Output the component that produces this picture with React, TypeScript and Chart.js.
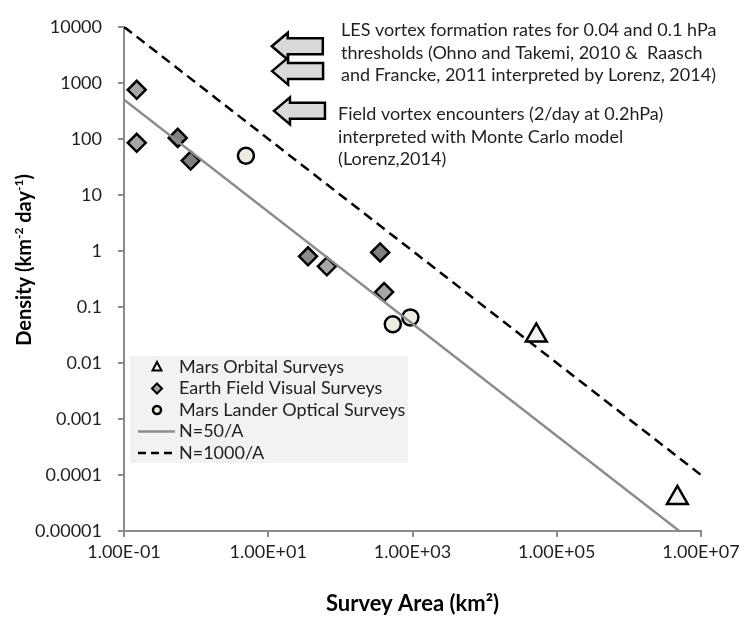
import React, { useEffect, useRef } from 'react';
import { Chart, registerables } from 'chart.js';

Chart.register(...registerables);

// ---------- data ----------
const marsOrbitalArea = [5.2e4, 4.7e6];
const marsOrbitalDensity = [0.031, 3.9e-5];

const earthFieldArea = [0.15, 0.15, 0.556, 0.84, 35.6, 65, 356, 404];
const earthFieldDensity = [750, 85, 104, 41, 0.8, 0.53, 0.94, 0.184];

const marsLanderArea = [4.9, 533, 935];
const marsLanderDensity = [50, 0.049, 0.065];

const n50Area = [0.1, 5e6];
const n50Density = [500, 1e-5];
const n1000Area = [0.1, 1e7];
const n1000Density = [10000, 1e-4];

const xTickValues = [0.1, 10, 1000, 1e5, 1e7];
const xTickLabels = ['1.00E-01', '1.00E+01', '1.00E+03', '1.00E+05', '1.00E+07'];
const yTickValues = [1e-5, 1e-4, 1e-3, 0.01, 0.1, 1, 10, 100, 1000, 10000];
const yTickLabels = ['0.00001', '0.0001', '0.001', '0.01', '0.1', '1', '10', '100', '1000', '10000'];

const xTitle = 'Survey Area (km²)';
// y title: [text, isSuperscript]
const yTitleParts: [string, boolean][] = [
  ['Density (km', false],
  ['-2', true],
  [' day', false],
  ['-1', true],
  [')', false],
];

const legendLabels = [
  'Mars Orbital Surveys',
  'Earth Field Visual Surveys',
  'Mars Lander Optical Surveys',
  'N=50/A',
  'N=1000/A',
];

const lesNoteLines = [
  'LES vortex formation rates for 0.04 and 0.1 hPa',
  'thresholds (Ohno and Takemi, 2010 &  Raasch',
  'and Francke, 2011 interpreted by Lorenz, 2014)',
];
const fieldNoteLines = [
  'Field vortex encounters (2/day at 0.2hPa)',
  'interpreted with Monte Carlo model',
  '(Lorenz,2014)',
];
// arrow anchors (data coordinates): tip area and density level
const arrowTipArea = [11.2, 11.3, 12];
const arrowDensity = [4500, 1620, 316];
// note anchors (data coordinates of first line start)
const noteArea = [102, 93];
const noteDensity = [8700, 272];

// ---------- styles ----------
const FONT = 'Lato, "Open Sans", "DejaVu Sans", sans-serif';
const TEXT = '#1f1f1f';
const AXIS = '#8c8c8c';
const earthFieldFill = ['#a6a6a6', '#a6a6a6', '#808080', '#808080', '#8c8c8c', '#a6a6a6', '#808080', '#a6a6a6'];

const pts = (xs: number[], ys: number[]) => xs.map((x, i) => ({ x, y: ys[i] }));

function drawArrow(ctx: CanvasRenderingContext2D, tipX: number, cy: number) {
  const len = 51, headLen = 16, headH = 27, bodyH = 16;
  ctx.beginPath();
  ctx.moveTo(tipX, cy);
  ctx.lineTo(tipX + headLen, cy - headH / 2);
  ctx.lineTo(tipX + headLen, cy - bodyH / 2);
  ctx.lineTo(tipX + len, cy - bodyH / 2);
  ctx.lineTo(tipX + len, cy + bodyH / 2);
  ctx.lineTo(tipX + headLen, cy + bodyH / 2);
  ctx.lineTo(tipX + headLen, cy + headH / 2);
  ctx.closePath();
  ctx.fillStyle = '#d9d9d9';
  ctx.fill();
  ctx.lineWidth = 2.5;
  ctx.strokeStyle = '#000';
  ctx.lineJoin = 'miter';
  ctx.stroke();
}

const overlayPlugin = {
  id: 'overlay',
  afterDatasetsDraw(chart: any) {
    const ctx: CanvasRenderingContext2D = chart.ctx;
    const xs = chart.scales.x;
    const ys = chart.scales.y;
    const ca = chart.chartArea;
    ctx.save();

    // arrows
    arrowTipArea.forEach((a, i) => {
      drawArrow(ctx, xs.getPixelForValue(a), ys.getPixelForValue(arrowDensity[i]));
    });

    // notes
    ctx.fillStyle = TEXT;
    ctx.font = `18px ${FONT}`;
    ctx.textAlign = 'left';
    ctx.textBaseline = 'middle';
    const lh = 22.5;
    [lesNoteLines, fieldNoteLines].forEach((lines, b) => {
      const x0 = xs.getPixelForValue(noteArea[b]);
      const y0 = ys.getPixelForValue(noteDensity[b]);
      lines.forEach((t, i) => ctx.fillText(t, x0, y0 + i * lh));
    });

    // legend
    const bl = ca.left + 6;
    const bt = ca.bottom - 175;
    const bw = 278;
    const bh = 107;
    ctx.fillStyle = '#f2f2f2';
    ctx.fillRect(bl, bt, bw, bh);
    const rowH = 21.5;
    const mx = bl + 27;
    legendLabels.forEach((label, i) => {
      const cy = bt + 11 + i * rowH;
      ctx.strokeStyle = '#000';
      ctx.lineWidth = 2.5;
      if (i === 0) {
        ctx.beginPath();
        ctx.moveTo(mx, cy - 5);
        ctx.lineTo(mx + 4.5, cy + 3.5);
        ctx.lineTo(mx - 4.5, cy + 3.5);
        ctx.closePath();
        ctx.fillStyle = '#f2f2f2';
        ctx.fill();
        ctx.lineWidth = 2;
        ctx.stroke();
      } else if (i === 1) {
        ctx.beginPath();
        ctx.moveTo(mx, cy - 5);
        ctx.lineTo(mx + 5, cy);
        ctx.lineTo(mx, cy + 5);
        ctx.lineTo(mx - 5, cy);
        ctx.closePath();
        ctx.fillStyle = '#a6a6a6';
        ctx.fill();
        ctx.lineWidth = 2;
        ctx.stroke();
      } else if (i === 2) {
        ctx.beginPath();
        ctx.arc(mx, cy, 4, 0, Math.PI * 2);
        ctx.fillStyle = '#eeece1';
        ctx.fill();
        ctx.lineWidth = 2.5;
        ctx.stroke();
      } else {
        ctx.beginPath();
        ctx.moveTo(bl + 8, cy);
        ctx.lineTo(bl + 45, cy);
        if (i === 3) {
          ctx.strokeStyle = AXIS;
          ctx.setLineDash([]);
        } else {
          ctx.strokeStyle = '#000';
          ctx.setLineDash([8, 5]);
        }
        ctx.lineWidth = 2.5;
        ctx.stroke();
        ctx.setLineDash([]);
      }
      ctx.fillStyle = TEXT;
      ctx.font = `18px ${FONT}`;
      ctx.textAlign = 'left';
      ctx.textBaseline = 'middle';
      ctx.fillText(label, bl + 49, cy);
    });

    // y axis title with superscripts
    const mainFont = `bold 20px ${FONT}`;
    const supFont = `bold 12px ${FONT}`;
    let total = 0;
    yTitleParts.forEach(([t, sup]) => {
      ctx.font = sup ? supFont : mainFont;
      total += ctx.measureText(t).width;
    });
    const cx = 25;
    const cyT = (ca.top + ca.bottom) / 2 - 19;
    ctx.translate(cx, cyT);
    ctx.rotate(-Math.PI / 2);
    ctx.fillStyle = '#000';
    ctx.textAlign = 'left';
    ctx.textBaseline = 'middle';
    let px = -total / 2;
    yTitleParts.forEach(([t, sup]) => {
      ctx.font = sup ? supFont : mainFont;
      ctx.fillText(t, px, sup ? -6 : 0);
      px += ctx.measureText(t).width;
    });

    ctx.restore();
  },
};

export default function App() {
  const ref = useRef<HTMLCanvasElement | null>(null);

  useEffect(() => {
    if (!ref.current) return;
    const chart = new Chart(ref.current, {
      type: 'scatter',
      data: {
        datasets: [
          {
            label: 'N=50/A',
            data: pts(n50Area, n50Density),
            showLine: true,
            pointRadius: 0,
            borderColor: AXIS,
            borderWidth: 2.5,
          },
          {
            label: 'N=1000/A',
            data: pts(n1000Area, n1000Density),
            showLine: true,
            pointRadius: 0,
            borderColor: '#000',
            borderWidth: 2.5,
            borderDash: [10, 6],
          },
          {
            label: 'Earth Field Visual Surveys',
            data: pts(earthFieldArea, earthFieldDensity),
            pointStyle: 'rectRot',
            pointRadius: 9,
            backgroundColor: earthFieldFill,
            borderColor: '#000',
            borderWidth: 2.5,
          },
          {
            label: 'Mars Lander Optical Surveys',
            data: pts(marsLanderArea, marsLanderDensity),
            pointStyle: 'circle',
            pointRadius: 8,
            backgroundColor: '#eeece1',
            borderColor: '#000',
            borderWidth: 2.5,
          },
          {
            label: 'Mars Orbital Surveys',
            data: pts(marsOrbitalArea, marsOrbitalDensity),
            pointStyle: 'triangle',
            pointRadius: 12,
            backgroundColor: '#f2f2f2',
            borderColor: '#000',
            borderWidth: 2.5,
          },
        ],
      },
      options: {
        animation: false,
        responsive: false,
        layout: { padding: { left: 0, top: 22, right: 43, bottom: 0 } },
        plugins: {
          legend: { display: false },
          tooltip: { enabled: false },
        },
        scales: {
          x: {
            type: 'logarithmic',
            min: 0.1,
            max: 1e7,
            afterBuildTicks: (s: any) => {
              s.ticks = xTickValues.map((v) => ({ value: v }));
            },
            afterFit: (s: any) => {
              s.height = 88;
            },
            ticks: {
              autoSkip: false,
              maxRotation: 0,
              minRotation: 0,
              padding: 4,
              color: TEXT,
              font: { family: FONT, size: 18 },
              callback: (_v: any, i: number) => xTickLabels[i],
            },
            grid: {
              drawOnChartArea: false,
              drawTicks: true,
              tickLength: 6,
              color: AXIS,
              lineWidth: 2,
            },
            border: { display: true, color: AXIS, width: 2 },
            title: {
              display: true,
              text: xTitle,
              color: '#000',
              font: { family: FONT, size: 22, weight: 'bold', lineHeight: 1.2 },
              padding: { top: 0, bottom: 2 },
            },
          },
          y: {
            type: 'logarithmic',
            min: 1e-5,
            max: 1e4,
            afterBuildTicks: (s: any) => {
              s.ticks = yTickValues.map((v) => ({ value: v }));
            },
            afterFit: (s: any) => {
              s.width = 124;
            },
            ticks: {
              autoSkip: false,
              padding: 16,
              color: TEXT,
              font: { family: FONT, size: 18 },
              callback: (_v: any, i: number) => yTickLabels[i],
            },
            grid: {
              drawOnChartArea: false,
              drawTicks: true,
              tickLength: 6,
              color: AXIS,
              lineWidth: 2,
            },
            border: { display: true, color: AXIS, width: 2 },
            title: { display: false },
          },
        },
      },
      plugins: [overlayPlugin],
    } as any);
    return () => chart.destroy();
  }, []);

  return (
    <div style={{ position: 'fixed', left: 0, top: 0, width: 744, height: 619, background: '#fff' }}>
      <canvas ref={ref} width={744} height={619} style={{ width: 744, height: 619, display: 'block' }} />
    </div>
  );
}
